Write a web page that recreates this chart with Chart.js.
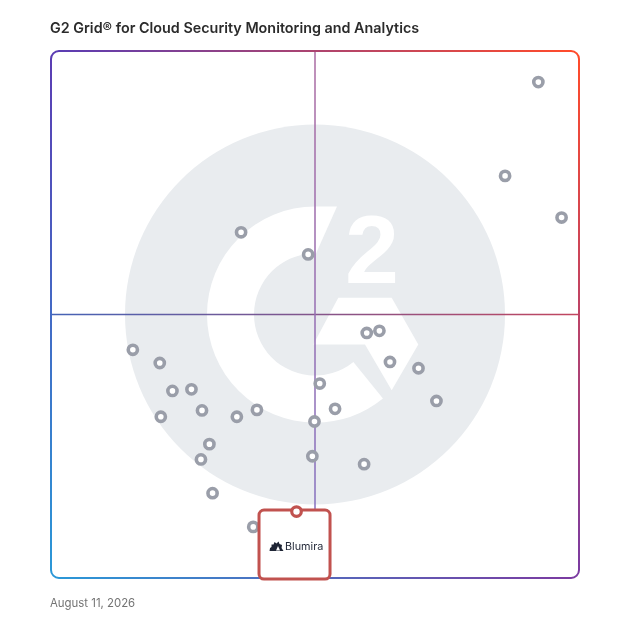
<!DOCTYPE html>
<html><head><meta charset="utf-8">
<script src="https://cdn.jsdelivr.net/npm/chart.js@4.4.1/dist/chart.umd.min.js"></script>
<style>
html,body{margin:0;padding:0;background:#fff;}
#wrap{position:relative;width:628px;height:628px;overflow:hidden;}
#c{position:absolute;left:0;top:0;}
#title{position:absolute;left:50px;top:19px;font-family:Inter,'Open Sans',sans-serif;font-weight:600;font-size:14.35px;color:#2b2b2b;white-space:nowrap;letter-spacing:0;}
#date{position:absolute;left:50px;top:596px;font-family:Inter,sans-serif;font-size:11.4px;color:#737373;white-space:nowrap;}
#lab{position:absolute;font-family:Inter,sans-serif;font-size:10.8px;color:#1f2535;white-space:nowrap;line-height:12px;}
</style></head>
<body>
<div id="wrap">
<canvas id="c" width="628" height="628"></canvas>
<div id="title">G2 Grid® for Cloud Security Monitoring and Analytics</div>
<div id="date">August 11, 2026</div>
<div id="lab">Blumira</div>
</div>
<script>
// Satisfaction (x) and Market Presence (y), 0-100 scale
const satisfaction = [92.3, 86.0, 96.7, 36.0, 48.7, 59.8, 62.2, 15.5, 20.6, 64.2, 69.6, 23.0, 26.6, 50.9, 28.6, 20.8, 35.2, 39.0, 53.8, 73.0, 49.9, 30.0, 28.4, 49.5, 59.3, 30.6, 38.3];
const marketPresence = [94.1, 76.3, 68.4, 65.6, 61.4, 46.5, 46.9, 43.3, 40.8, 41.0, 39.8, 35.5, 35.8, 36.9, 31.8, 30.6, 30.6, 31.9, 32.1, 33.6, 29.7, 25.4, 22.5, 23.1, 21.6, 16.1, 9.7];
const highlightName = ['Blumira'];
const highlightX = [46.5];
const highlightY = [12.6];
const axisMin = 0, axisMax = 100, axisMid = 50;

const others = satisfaction.map((x, i) => ({x: x, y: marketPresence[i]}));
const featured = highlightX.map((x, i) => ({x: x, y: highlightY[i]}));

const TL='#5b3db3', TR='#ff4b2b', BL='#2b97d7', BR='#7b3ba1';

const gridPlugin = {
  id: 'g2grid',
  beforeDatasetsDraw(chart){
    const ctx = chart.ctx, a = chart.chartArea;
    const xs = chart.scales.x, ys = chart.scales.y;
    const cx = xs.getPixelForValue(axisMid), cy = ys.getPixelForValue(axisMid);
    const u = (a.right - a.left) / 528;
    ctx.save();
    // watermark
    ctx.beginPath(); ctx.rect(a.left, a.top, a.right-a.left, a.bottom-a.top); ctx.clip();
    ctx.fillStyle = '#e9ecef';
    ctx.beginPath(); ctx.arc(cx, cy, 190*u, 0, Math.PI*2); ctx.fill();
    ctx.fillStyle = '#ffffff';
    const R1 = 108*u, R2 = 61*u, endA = 51*Math.PI/180;
    ctx.beginPath();
    ctx.arc(cx, cy, R1, -Math.PI/2, endA, true);
    ctx.arc(cx, cy, R2, endA, -Math.PI/2, false);
    ctx.closePath(); ctx.fill();
    ctx.beginPath();
    ctx.moveTo(cx, cy-R1); ctx.lineTo(cx+22*u, cy-R1); ctx.lineTo(cx+1*u, cy-R2); ctx.lineTo(cx, cy-R2);
    ctx.closePath(); ctx.fill();
    ctx.beginPath();
    const chev = [[23.3,-16.7],[76.7,-16.7],[103.3,30],[76.7,75.7],[50,30],[-1.7,30]];
    chev.forEach((p,i)=>{ const px=cx+p[0]*u, py=cy+p[1]*u; if(i) ctx.lineTo(px,py); else ctx.moveTo(px,py); });
    ctx.closePath(); ctx.fill();
    ctx.font = 'bold '+(97*u)+'px "Liberation Sans", Arial, sans-serif';
    ctx.textAlign = 'center'; ctx.textBaseline = 'alphabetic';
    ctx.fillText('2', cx+57*u, cy-32*u);
    ctx.restore();

    // mid lines
    ctx.save();
    ctx.lineWidth = 1.5;
    let g = ctx.createLinearGradient(a.left, 0, a.right, 0);
    g.addColorStop(0, '#4563b6'); g.addColorStop(1, '#c2465f');
    ctx.strokeStyle = g;
    ctx.beginPath(); ctx.moveTo(a.left, cy); ctx.lineTo(a.right, cy); ctx.stroke();
    g = ctx.createLinearGradient(0, a.top, 0, a.bottom);
    g.addColorStop(0, '#ab6ba2'); g.addColorStop(1, '#7f70c2');
    ctx.strokeStyle = g;
    ctx.beginPath(); ctx.moveTo(cx, a.top); ctx.lineTo(cx, a.bottom); ctx.stroke();
    ctx.restore();

    // border with four-corner gradient
    ctx.save();
    ctx.lineWidth = 2; ctx.lineCap = 'butt';
    const r = 8, L=a.left, T=a.top, R=a.right, B=a.bottom;
    function seg(x0,y0,x1,y1,c0,c1){
      const gg = ctx.createLinearGradient(x0,y0,x1,y1);
      gg.addColorStop(0,c0); gg.addColorStop(1,c1);
      ctx.strokeStyle = gg; ctx.beginPath(); ctx.moveTo(x0,y0); ctx.lineTo(x1,y1); ctx.stroke();
    }
    seg(L+r,T,R-r,T,TL,TR);
    seg(R,T+r,R,B-r,TR,BR);
    seg(L+r,B,R-r,B,BL,BR);
    seg(L,T+r,L,B-r,TL,BL);
    function corner(x,y,s,e,c){ ctx.strokeStyle=c; ctx.beginPath(); ctx.arc(x,y,r,s,e); ctx.stroke(); }
    corner(L+r,T+r,Math.PI,1.5*Math.PI,TL);
    corner(R-r,T+r,1.5*Math.PI,2*Math.PI,TR);
    corner(R-r,B-r,0,0.5*Math.PI,BR);
    corner(L+r,B-r,0.5*Math.PI,Math.PI,BL);
    ctx.restore();
  },
  beforeDatasetDraw(chart, args){
    if (args.index !== 1) return;
    const ctx = chart.ctx;
    const meta = chart.getDatasetMeta(1);
    meta.data.forEach((pt) => {
      const px = pt.x, py = pt.y;
      const x0 = px-37.5, x1 = px+33.5, y0 = py-1.5, y1 = py+67.5, rr = 5;
      ctx.save();
      ctx.beginPath();
      ctx.roundRect(x0, y0, x1-x0, y1-y0, rr);
      ctx.fillStyle = '#ffffff'; ctx.fill();
      ctx.lineWidth = 3; ctx.strokeStyle = '#c1524f'; ctx.stroke();
      // hedgehog-like logo icon
      const ix = px-27, iy = py+39.5;
      ctx.fillStyle = '#1f2535';
      ctx.beginPath();
      ctx.moveTo(ix, iy);
      ctx.lineTo(ix+0.5, iy-3);
      ctx.lineTo(ix+2, iy-4);
      ctx.lineTo(ix+2, iy-6.5);
      ctx.lineTo(ix+4, iy-6.5);
      ctx.lineTo(ix+5, iy-9);
      ctx.lineTo(ix+7, iy-7.5);
      ctx.lineTo(ix+9, iy-9.5);
      ctx.lineTo(ix+10, iy-7);
      ctx.lineTo(ix+12.5, iy-6);
      ctx.lineTo(ix+12, iy-3);
      ctx.lineTo(ix+14, iy);
      ctx.closePath(); ctx.fill();
      ctx.fillStyle = '#ffffff';
      ctx.beginPath();
      ctx.moveTo(ix+6.5, iy-0.5); ctx.lineTo(ix+8.5, iy-5); ctx.lineTo(ix+10.5, iy-0.5); ctx.closePath(); ctx.fill();
      ctx.restore();
      const lab = document.getElementById('lab');
      lab.style.left = (px-11.5) + 'px';
      lab.style.top = (py+29) + 'px';
    });
  }
};

new Chart(document.getElementById('c'), {
  type: 'scatter',
  data: {
    datasets: [
      { label: 'Products', data: others, pointRadius: 4.6, pointBorderWidth: 3.6,
        pointBackgroundColor: '#ffffff', pointBorderColor: '#9a9ea9', order: 2 },
      { label: highlightName[0], data: featured, pointRadius: 4.8, pointBorderWidth: 3.2,
        pointBackgroundColor: '#ffffff', pointBorderColor: '#c1524f', order: 1 }
    ]
  },
  options: {
    responsive: false, animation: false, events: [],
    layout: { padding: { left: 51, top: 51, right: 49, bottom: 50 } },
    plugins: { legend: { display: false }, tooltip: { enabled: false }, title: { display: false } },
    scales: {
      x: { display: false, min: axisMin, max: axisMax },
      y: { display: false, min: axisMin, max: axisMax }
    }
  },
  plugins: [gridPlugin]
});
</script>
</body></html>
